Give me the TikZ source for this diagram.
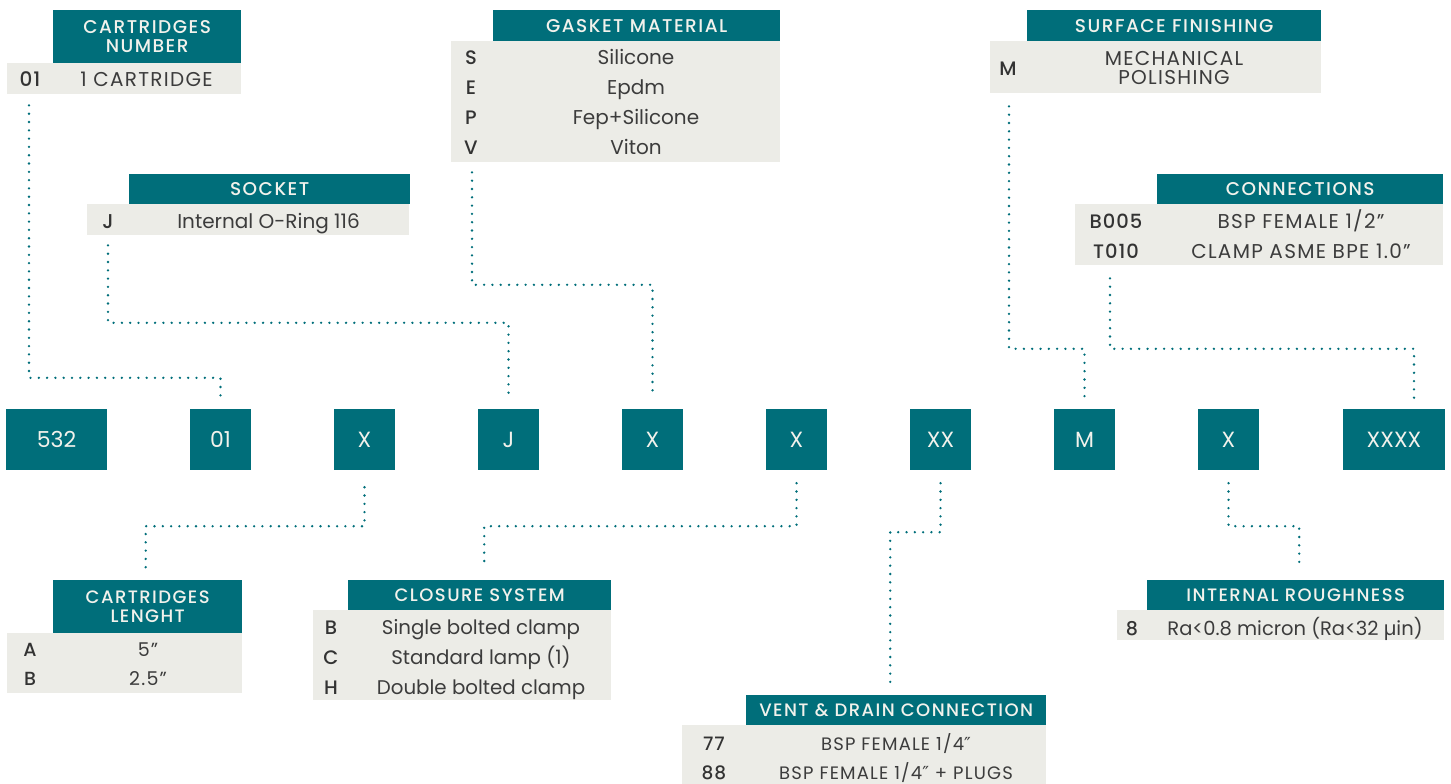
\documentclass[tikz,border=0pt]{standalone}
\usepackage{fontspec}
\setmainfont{Poppins}
\IfFontExistsTF{Poppins Medium}{%
  \newfontfamily\hdrfont{Poppins Medium}[LetterSpace=8]%
  \newfontfamily\keyfont{Poppins Medium}[LetterSpace=5]%
}{%
  \newfontfamily\hdrfont{Poppins}[LetterSpace=8,FakeBold=0.25]%
  \newfontfamily\keyfont{Poppins}[LetterSpace=5,FakeBold=0.25]%
}
\newfontfamily\capfont{Poppins}[LetterSpace=6.5]
\newfontfamily\symfont{DejaVu Sans}
\newcommand{\dprime}{{\symfont ″}}
\usetikzlibrary{calc}
\definecolor{brandteal}{HTML}{006E7A}
\definecolor{rowgray}{HTML}{ECECE7}
\definecolor{hdrtxt}{HTML}{F2F2EC}
\definecolor{valtxt}{HTML}{3C3C3C}
\definecolor{keytxt}{HTML}{333333}
\tikzset{
  hdr/.style={fill=brandteal, text=hdrtxt, inner sep=0pt, anchor=north west, align=center, font=\hdrfont\fontsize{#1}{19}\selectfont},
  rowbg/.style={fill=rowgray, inner sep=0pt, anchor=north west},
  keyt/.style={text=keytxt, inner sep=0pt, anchor=base, font=\keyfont\fontsize{#1}{20}\selectfont},
  valt/.style={text=valtxt, inner sep=0pt, anchor=base, align=center, font=\fontsize{#1}{19}\selectfont},
  capt/.style={text=valtxt, inner sep=0pt, anchor=base, align=center, font=\capfont\fontsize{#1}{19}\selectfont},
  codebox/.style={fill=brandteal, text=hdrtxt, inner sep=0pt, minimum height=61pt, font=\fontsize{22}{24}\selectfont},
  dotc/.style={draw=brandteal, line width=2.6pt, line cap=round, dash pattern=on 0pt off 8.3pt}
}
\begin{document}
\begin{tikzpicture}[x=1pt,y=-1pt]
\useasboundingbox (0,0) rectangle (1451,784);
% ---- code boxes
\node[codebox, minimum width=101pt] (c532) at (56.5,439.5) {532};
\node[codebox, minimum width=61pt] (c01) at (220.5,439.5) {01};
\node[codebox, minimum width=61pt] (cX1) at (364.5,439.5) {X};
\node[codebox, minimum width=61pt] (cJ) at (508.5,439.5) {J};
\node[codebox, minimum width=61pt] (cX2) at (652.5,439.5) {X};
\node[codebox, minimum width=61pt] (cX3) at (796.5,439.5) {X};
\node[codebox, minimum width=61pt] (cXX) at (940.5,439.5) {XX};
\node[codebox, minimum width=61pt] (cM) at (1084.5,439.5) {M};
\node[codebox, minimum width=61pt] (cX5) at (1228.5,439.5) {X};
\node[codebox, minimum width=102pt] (cXXXX) at (1394,439.5) {XXXX};
% ---- cartridges number
\node[hdr=18.5, minimum width=188pt, minimum height=53pt] (cnHead) at (53,10) {CARTRIDGES\\NUMBER};
\node[rowbg, minimum width=234pt, minimum height=31pt] (cnRow) at (7,63) {};
\node[keyt=20] (cnK1) at (30,87) {01};
\node[capt=20] (cnV1) at (146.5,87) {1 CARTRIDGE};
% ---- socket
\node[hdr=18.5, minimum width=281pt, minimum height=30pt] (skHead) at (129,174) {SOCKET};
\node[rowbg, minimum width=322pt, minimum height=31pt] (skRow) at (87,204) {};
\node[keyt=20] (skK1) at (108,228) {J};
\node[valt=20] (skV1) at (268.5,228) {Internal O-Ring 116};
% ---- gasket material
\node[hdr=18.5, minimum width=287pt, minimum height=31pt] (gmHead) at (493,10) {GASKET MATERIAL};
\node[rowbg, minimum width=329pt, minimum height=121pt] (gmRow) at (451,41) {};
\node[keyt=19.5] (gmK1) at (471,64) {S};
\node[keyt=19.5] (gmK2) at (471,94) {E};
\node[keyt=19.5] (gmK3) at (471,124) {P};
\node[keyt=19.5] (gmK4) at (471,154) {V};
\node[valt=20] (gmV1) at (636,64) {Silicone};
\node[valt=20] (gmV2) at (636,94) {Epdm};
\node[valt=20] (gmV3) at (636,124) {Fep+Silicone};
\node[valt=20] (gmV4) at (636,154) {Viton};
% ---- surface finishing
\node[hdr=18.5, minimum width=294pt, minimum height=31pt] (sfHead) at (1027,10) {SURFACE FINISHING};
\node[rowbg, minimum width=331pt, minimum height=52pt] (sfRow) at (990,41) {};
\node[keyt=19.5] (sfK1) at (1008,75) {M};
\node[capt=20, anchor=center] (sfV1) at (1174,68) {MECHANICAL\\POLISHING};
% ---- connections
\node[hdr=18.5, minimum width=286pt, minimum height=30pt] (coHead) at (1157,174) {CONNECTIONS};
\node[rowbg, minimum width=368pt, minimum height=61pt] (coRow) at (1075,204) {};
\node[keyt=19.5] (coK1) at (1116,228) {B005};
\node[keyt=19.5] (coK2) at (1116,258) {T010};
\node[capt=20] (coV1) at (1301,228) {BSP FEMALE 1/2”};
\node[capt=20] (coV2) at (1301,258) {CLAMP ASME BPE 1.0”};
% ---- cartridges length
\node[hdr=18, minimum width=189pt, minimum height=53pt] (clHead) at (53,580) {CARTRIDGES\\LENGHT};
\node[rowbg, minimum width=235pt, minimum height=60pt] (clRow) at (7,633) {};
\node[keyt=19] (clK1) at (30,656) {A};
\node[keyt=19] (clK2) at (30,685) {B};
\node[capt=19] (clV1) at (148,656) {5”};
\node[capt=19] (clV2) at (148,685) {2.5”};
% ---- closure system
\node[hdr=18, minimum width=263pt, minimum height=30pt] (csHead) at (348,580) {CLOSURE SYSTEM};
\node[rowbg, minimum width=298pt, minimum height=90pt] (csRow) at (313,610) {};
\node[keyt=19.5] (csK1) at (331,634) {B};
\node[keyt=19.5] (csK2) at (331,664) {C};
\node[keyt=19.5] (csK3) at (331,694) {H};
\node[valt=19.8] (csV1) at (481,634) {Single bolted clamp};
\node[valt=19.8] (csV2) at (481,664) {Standard lamp (1)};
\node[valt=19.8] (csV3) at (481,694) {Double bolted clamp};
% ---- vent & drain
\node[hdr=18, minimum width=300pt, minimum height=30pt] (vdHead) at (746,695) {VENT \& DRAIN CONNECTION};
\node[rowbg, minimum width=364pt, minimum height=59pt] (vdRow) at (682,725) {};
\node[keyt=18.5] (vdK1) at (714,750) {77};
\node[keyt=18.5] (vdK2) at (714,779) {88};
\node[capt=18] (vdV1) at (896,750) {BSP FEMALE 1/4\dprime};
\node[capt=18] (vdV2) at (896,779) {BSP FEMALE 1/4\dprime{} + PLUGS};
% ---- internal roughness
\node[hdr=18, minimum width=297pt, minimum height=30pt] (irHead) at (1147,580) {INTERNAL ROUGHNESS};
\node[rowbg, minimum width=327pt, minimum height=30pt] (irRow) at (1117,610) {};
\node[keyt=19] (irK1) at (1132,635) {8};
\node[valt=19.5] (irV1) at (1295,635) {Ra<0.8 micron (Ra<32 µin)};
% ---- connectors (top)
\draw[dotc] ($(cnRow.south west)+(22,11)$) |- ($(c01.north)+(0,-31)$) -- ($(c01.north)+(0,-11)$);
\draw[dotc] ($(skRow.south west)+(21,10)$) |- ($(cJ.north)+(0,-86)$) -- ($(cJ.north)+(0,-11)$);
\draw[dotc] ($(gmRow.south west)+(21,10)$) |- ($(cX2.north)+(0,-124)$) -- ($(cX2.north)+(0,-11)$);
\draw[dotc] ($(sfRow.south west)+(19,13)$) |- ($(cM.north)+(0,-60)$) -- ($(cM.north)+(0,-11)$);
\draw[dotc] ($(coRow.south west)+(35,13)$) |- ($(cXXXX.north)+(20,-60)$) -- ($(cXXXX.north)+(20,-11)$);
% ---- connectors (bottom)
\draw[dotc] ($(cX1.south)+(0,17)$) -- ($(cX1.south)+(0,56)$) -| ($(clHead.north)+(-2,-12)$);
\draw[dotc] ($(cX3.south)+(0,13)$) -- ($(cX3.south)+(0,56)$) -| ($(csHead.north)+(4.5,-12)$);
\draw[dotc] ($(cXX.south)+(0,13)$) -- ($(cXX.south)+(0,62)$) -| ($(vdHead.north)+(-6,-12)$);
\draw[dotc] ($(cX5.south)+(0,13)$) -- ($(cX5.south)+(0,56)$) -| ($(irHead.north)+(3.5,-12)$);
\end{tikzpicture}
\end{document}
